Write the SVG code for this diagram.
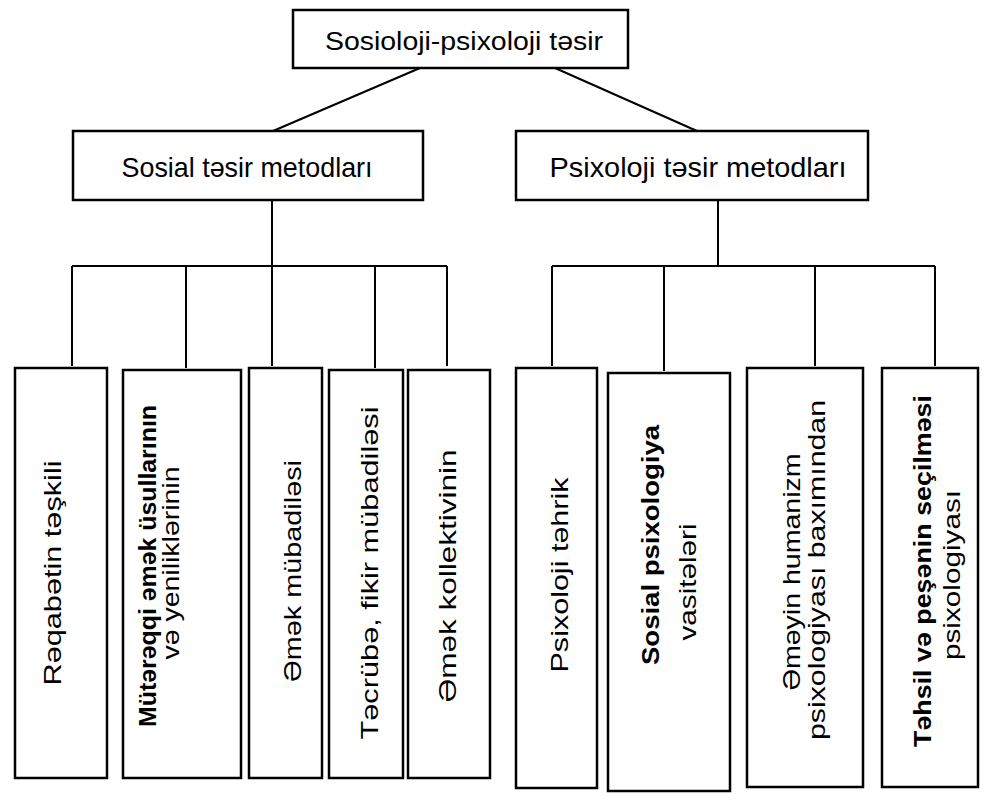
<svg xmlns="http://www.w3.org/2000/svg" width="986" height="807" viewBox="0 0 986 807">
<style>
.box{fill:#fff;stroke:#000;stroke-width:2.5}
.ln{fill:none;stroke:#000;stroke-width:2}
.t{font-family:"Liberation Sans",Arial,sans-serif;fill:#000;text-anchor:middle}
.h{font-size:26px}
.m{font-size:28px}
.v{font-size:24px}
.b{font-weight:bold}
</style>
<rect width="986" height="807" fill="#fff"/>
<g id="connectors">
<path class="ln" d="M420,68 L273,131"/>
<path class="ln" d="M555,68 L697,131"/>
<path class="ln" d="M272,200 V266 M72,266 H447 M72,266 V366 M186,266 V368 M272,266 V366 M375,266 V368 M447,266 V366"/>
<path class="ln" d="M718,200 V266 M552,266 H935 M552,266 V366 M664,266 V371 M815,266 V366 M935,266 V366"/>
</g>
<g id="n0"><rect class="box" x="293" y="10" width="335" height="58"/><text class="t h" x="464" y="50" textLength="278" lengthAdjust="spacingAndGlyphs">Sosioloji-psixoloji təsir</text></g>
<g id="n1"><rect class="box" x="73" y="131" width="350" height="69"/><text class="t m" x="247" y="177" textLength="251" lengthAdjust="spacingAndGlyphs">Sosial təsir metodları</text></g>
<g id="n2"><rect class="box" x="516" y="131" width="352" height="69"/><text class="t m" x="698" y="177" textLength="297" lengthAdjust="spacingAndGlyphs">Psixoloji təsir metodları</text></g>
<g id="n3"><rect class="box" x="15" y="368" width="92" height="410"/><text class="t v" transform="translate(61,573) rotate(-90)" textLength="225" lengthAdjust="spacingAndGlyphs">Rəqabətin təşkili</text></g>
<g id="n4"><rect class="box" x="123" y="370" width="118" height="408"/><text class="t v b" transform="translate(156,566) rotate(-90)" textLength="322" lengthAdjust="spacingAndGlyphs">Mütərəqqi əmək üsullarının</text><text class="t v" transform="translate(179,563) rotate(-90)" textLength="193" lengthAdjust="spacingAndGlyphs">və yeniliklərinin</text></g>
<g id="n5"><rect class="box" x="249" y="368" width="73" height="410"/><text class="t v" transform="translate(301,571) rotate(-90)" textLength="222" lengthAdjust="spacingAndGlyphs">Əmək mübadiləsi</text></g>
<g id="n6"><rect class="box" x="329" y="370" width="74" height="408"/><text class="t v" transform="translate(378,573) rotate(-90)" textLength="333" lengthAdjust="spacingAndGlyphs">Təcrübə, fikir  mübadiləsi</text></g>
<g id="n7"><rect class="box" x="408" y="370" width="82" height="408"/><text class="t v" transform="translate(456,576) rotate(-90)" textLength="253" lengthAdjust="spacingAndGlyphs">Əmək kollektivinin</text></g>
<g id="n8"><rect class="box" x="516" y="368" width="81" height="420"/><text class="t v" transform="translate(568,575) rotate(-90)" textLength="195" lengthAdjust="spacingAndGlyphs">Psixoloji təhrik</text></g>
<g id="n9"><rect class="box" x="608" y="373" width="122" height="418"/><text class="t v b" transform="translate(659,545) rotate(-90)" textLength="240" lengthAdjust="spacingAndGlyphs">Sosial psixologiya</text><text class="t v" transform="translate(696,582) rotate(-90)" textLength="117" lengthAdjust="spacingAndGlyphs">vasitələri</text></g>
<g id="n10"><rect class="box" x="747" y="368" width="116" height="419"/><text class="t v" transform="translate(800,572) rotate(-90)" textLength="237" lengthAdjust="spacingAndGlyphs">Əməyin humanizm</text><text class="t v" transform="translate(825,570) rotate(-90)" textLength="340" lengthAdjust="spacingAndGlyphs">psixologiyası baxımından</text></g>
<g id="n11"><rect class="box" x="882" y="368" width="96" height="419"/><text class="t v b" transform="translate(931,571) rotate(-90)" textLength="352" lengthAdjust="spacingAndGlyphs">Təhsil və peşənin seçilməsi</text><text class="t v" transform="translate(960,575) rotate(-90)" textLength="170" lengthAdjust="spacingAndGlyphs">psixologiyası</text></g>
</svg>
